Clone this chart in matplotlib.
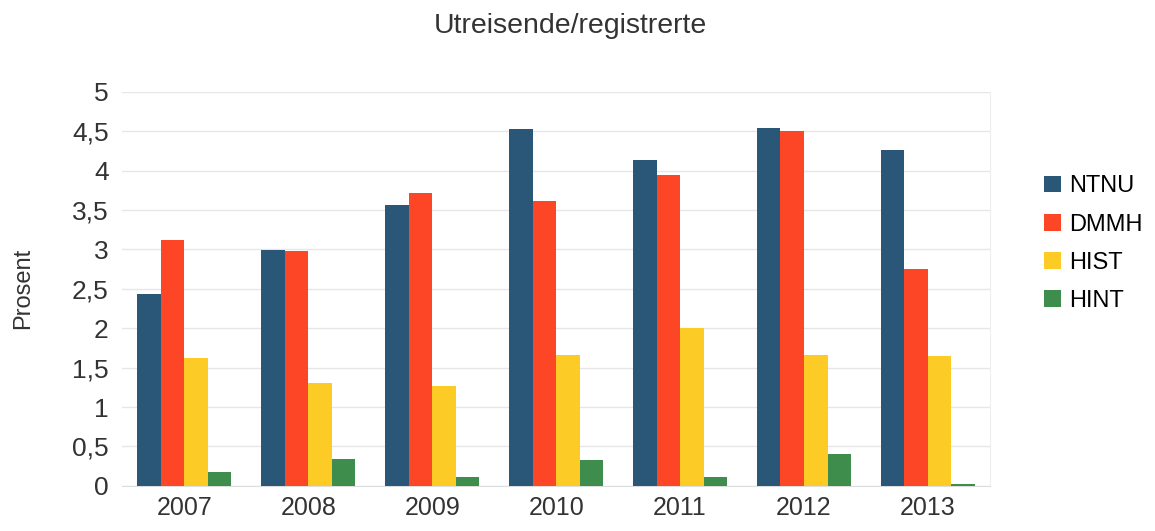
import matplotlib
matplotlib.use("Agg")
import matplotlib.pyplot as plt
import numpy as np

plt.rcParams['font.family'] = ['Liberation Sans', 'DejaVu Sans']

years = ['2007', '2008', '2009', '2010', '2011', '2012', '2013']
ntnu = [2.44, 2.99, 3.56, 4.53, 4.13, 4.54, 4.26]
dmmh = [3.12, 2.98, 3.72, 3.61, 3.94, 4.50, 2.75]
hist = [1.62, 1.30, 1.27, 1.66, 2.00, 1.66, 1.65]
hint = [0.18, 0.34, 0.11, 0.33, 0.11, 0.41, 0.02]

series = [('NTNU', ntnu, '#2a5678'),
          ('DMMH', dmmh, '#fc4625'),
          ('HIST', hist, '#fdcb25'),
          ('HINT', hint, '#3f8d4d')]

fig = plt.figure(figsize=(11.55, 5.31), dpi=100)
ax = fig.add_axes([0.106, 0.085, 0.751, 0.742])

x = np.arange(len(years))
w = 0.19
for i, (name, vals, col) in enumerate(series):
    ax.bar(x + (i - 1.5) * w, vals, w, color=col, label=name, zorder=3)

ax.set_ylim(0, 5)
ax.set_xlim(-0.5, len(years) - 0.5)
yt = np.arange(0, 5.01, 0.5)
ax.set_yticks(yt)
ax.set_yticklabels([('%g' % v).replace('.', ',') for v in yt], fontsize=19, color='#333333')
ax.set_xticks(x)
ax.set_xticklabels(years, fontsize=18, color='#333333')
ax.tick_params(axis='y', length=0, pad=10)
ax.tick_params(axis='x', length=0, pad=7)
ax.grid(axis='y', color='#e6e6e6', linewidth=1, zorder=0)
for s in ['top', 'left']:
    ax.spines[s].set_visible(False)
ax.spines['right'].set_color('#eeeeee')
ax.spines['bottom'].set_color('#dddddd')

ax.set_ylabel('Prosent', fontsize=17, color='#333333', labelpad=27)
fig.suptitle('Utreisende/registrerte', fontsize=20.5, color='#333333', x=0.494, y=0.975)

ax.legend(loc='center left', bbox_to_anchor=(1.038, 0.615), frameon=False,
          fontsize=17, handlelength=0.7, handleheight=0.7, handletextpad=0.35,
          labelspacing=0.68)

fig.savefig('out.png', dpi=100, facecolor='white')
